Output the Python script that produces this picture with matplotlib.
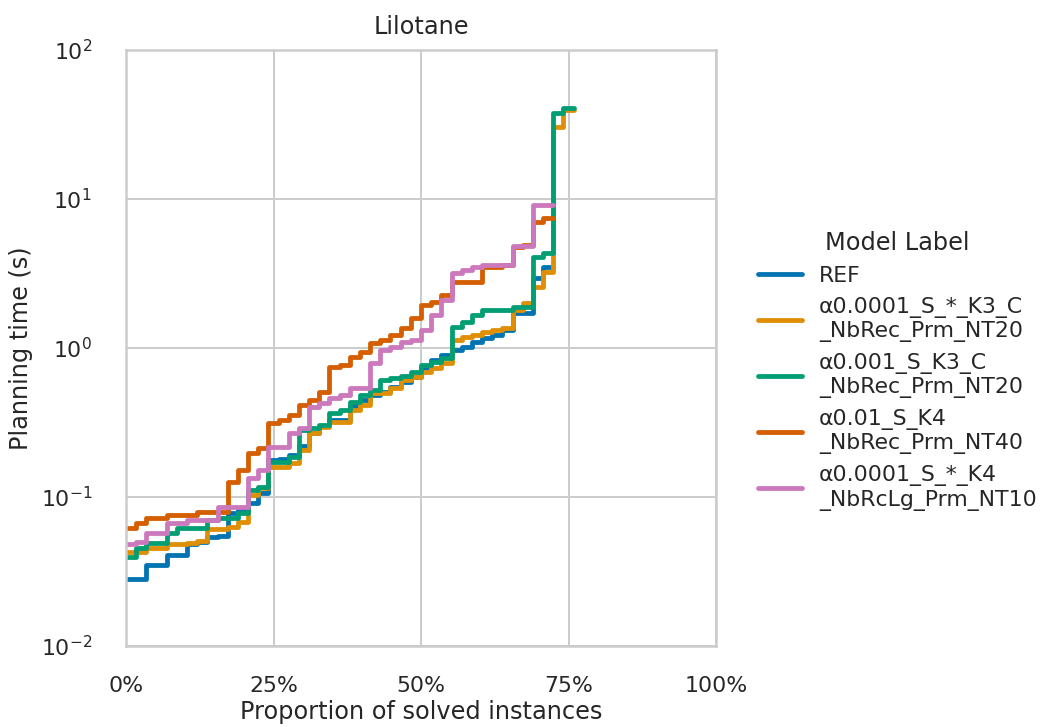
import numpy as np
import matplotlib
matplotlib.use("Agg")
import matplotlib.pyplot as plt
import seaborn as sns
from matplotlib.ticker import PercentFormatter

# ---------------- data ----------------
N_TOTAL = 58  # total number of instances

labels = [
    "REF",
    "α0.0001_S_*_K3_C\n_NbRec_Prm_NT20",
    "α0.001_S_K3_C\n_NbRec_Prm_NT20",
    "α0.01_S_K4\n_NbRec_Prm_NT40",
    "α0.0001_S_*_K4\n_NbRcLg_Prm_NT10",
]

# sorted planning times (s) of solved instances
times_ref = [0.028, 0.028, 0.035, 0.035, 0.041, 0.041, 0.048, 0.050, 0.054, 0.055,
             0.078, 0.082, 0.091, 0.107, 0.177, 0.180, 0.19, 0.22, 0.27, 0.30,
             0.33, 0.33, 0.41, 0.45, 0.48, 0.51, 0.55, 0.59, 0.64, 0.73,
             0.83, 0.90, 0.97, 1.02, 1.10, 1.17, 1.22, 1.32, 1.72, 1.72,
             2.95, 3.50]

times_a00001_k3 = [0.043, 0.043, 0.0455, 0.0455, 0.048, 0.048, 0.049, 0.051, 0.061, 0.061,
                   0.063, 0.068, 0.103, 0.115, 0.159, 0.159, 0.169, 0.207, 0.269, 0.295,
                   0.319, 0.319, 0.383, 0.414, 0.499, 0.499, 0.539, 0.61, 0.639, 0.69,
                   0.734, 0.792, 1.13, 1.19, 1.22, 1.28, 1.32, 1.36, 1.80, 2.00,
                   2.57, 3.24, 30.4, 39.5]

times_a0001_k3 = [0.0395, 0.0455, 0.049, 0.049, 0.057, 0.062, 0.062, 0.062, 0.070, 0.072,
                  0.072, 0.078, 0.111, 0.117, 0.172, 0.172, 0.185, 0.282, 0.29, 0.304,
                  0.366, 0.383, 0.434, 0.484, 0.522, 0.61, 0.626, 0.649, 0.69, 0.768,
                  0.806, 0.857, 1.38, 1.49, 1.66, 1.80, 1.80, 1.80, 1.88, 1.88,
                  4.08, 4.34, 37.8, 40.8]

times_a001_k4 = [0.062, 0.067, 0.072, 0.072, 0.0757, 0.0757, 0.0757, 0.079, 0.079, 0.079,
                 0.126, 0.152, 0.197, 0.213, 0.314, 0.329, 0.355, 0.414, 0.448, 0.507,
                 0.745, 0.768, 0.871, 0.94, 1.08, 1.13, 1.22, 1.36, 1.59, 1.94,
                 2.04, 2.27, 2.77, 2.77, 2.77, 3.50, 3.50, 3.61, 4.76, 4.91,
                 7.01, 7.45]

times_a00001_k4 = [0.048, 0.050, 0.057, 0.057, 0.067, 0.067, 0.070, 0.070, 0.070, 0.086,
                   0.086, 0.086, 0.134, 0.152, 0.217, 0.217, 0.269, 0.29, 0.402, 0.427,
                   0.462, 0.484, 0.539, 0.539, 0.792, 0.97, 1.016, 1.097, 1.13, 1.32,
                   1.66, 2.10, 3.19, 3.33, 3.50, 3.61, 3.61, 3.61, 4.84, 4.84,
                   9.12, 9.12]

series = [times_ref, times_a00001_k3, times_a0001_k3, times_a001_k4, times_a00001_k4]
colors = ["#0173B2", "#DE8F05", "#029E73", "#D55E00", "#CC78BC"]

x_ticks = [0, 0.25, 0.5, 0.75, 1.0]

# ---------------- plot ----------------
sns.set_theme(style="whitegrid", context="notebook")
plt.rcParams["font.family"] = ["DejaVu Sans"]

fig = plt.figure(figsize=(1042 / 144, 727 / 144), dpi=144)
ax = fig.add_axes([126 / 1042, 1 - 646 / 727, (716 - 126) / 1042, (646 - 50) / 727])

handles = []
for times, col, lab in zip(series, colors, labels):
    n = len(times)
    xs = np.arange(n + 1) / N_TOTAL
    ys = list(times) + [times[-1]]
    h, = ax.plot(xs, ys, drawstyle="steps-post", color=col, lw=2.4, label=lab)
    handles.append(h)

ax.set_yscale("log")
ax.set_ylim(1e-2, 1e2)
ax.set_xlim(0, 1)
ax.set_xticks(x_ticks)
ax.xaxis.set_major_formatter(PercentFormatter(xmax=1, decimals=0))
ax.yaxis.set_minor_locator(matplotlib.ticker.NullLocator())
ax.tick_params(axis="y", which="major", pad=11, labelsize=11)
ax.tick_params(axis="x", which="major", pad=9, labelsize=11)
ax.set_xlabel("Proportion of solved instances", fontsize=12, labelpad=2)
ax.set_ylabel("Planning time (s)", fontsize=12)
ax.set_title("Lilotane", fontsize=12, pad=8)
for s in ax.spines.values():
    s.set_color("#cccccc")

leg = fig.legend(handles=handles, labels=labels, title="Model Label",
                 loc="center left", bbox_to_anchor=(0.708, 0.49), frameon=False,
                 fontsize=11, title_fontsize=12)

fig.savefig("out.png", dpi=144)
